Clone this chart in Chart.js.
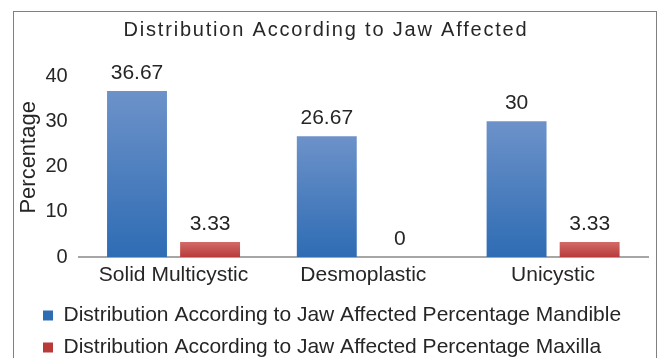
<!DOCTYPE html>
<html>
<head>
<meta charset="utf-8">
<script src="https://cdn.jsdelivr.net/npm/chart.js@4/dist/chart.umd.min.js"></script>
<style>
  html, body { margin: 0; padding: 0; background: #fff; overflow: hidden; }
  .frame { position: absolute; left: 13px; top: 11px; width: 642px; height: 360px; border: 1px solid #808080; }
  canvas { display: block; }
</style>
</head>
<body>
<div class="frame"><canvas id="jawChart" width="642" height="356"></canvas></div>
<script>
const chartTitle = "Distribution According to Jaw Affected";
const categories = ["Solid Multicystic", "Desmoplastic", "Unicystic"];
const mandible = [36.67, 26.67, 30];
const maxilla = [3.33, 0, 3.33];
const yTicks = [0, 10, 20, 30, 40];
const seriesNames = [
  "Distribution According to Jaw Affected Percentage Mandible",
  "Distribution According to Jaw Affected Percentage Maxilla"
];

const textColor = "#262626";
const font = '"Liberation Sans", Arial, sans-serif';

// per bar vertical gradient, like the excel fill
function barGradient(top, bottom) {
  return (ctx) => {
    const chart = ctx.chart;
    if (!chart.chartArea || ctx.raw === undefined) return bottom;
    const y = chart.scales.y;
    const y0 = y.getPixelForValue(ctx.raw);
    const y1 = y.getPixelForValue(0);
    if (y1 - y0 < 1) return bottom;
    const g = chart.ctx.createLinearGradient(0, y0, 0, y1);
    g.addColorStop(0, top);
    g.addColorStop(1, bottom);
    return g;
  };
}

const titlePlugin = {
  id: "spacedTitle",
  afterDraw(chart) {
    const c = chart.ctx;
    c.save();
    c.font = "20px " + font;
    c.letterSpacing = "1.8px";
    c.fillStyle = textColor;
    c.textAlign = "center";
    c.textBaseline = "middle";
    c.fillText(chartTitle, 312, 18);
    c.restore();
  }
};

const valueLabels = {
  id: "valueLabels",
  afterDatasetsDraw(chart) {
    const c = chart.ctx;
    c.save();
    c.font = "21px " + font;
    c.fillStyle = textColor;
    c.textAlign = "center";
    c.textBaseline = "alphabetic";
    chart.data.datasets.forEach((ds, i) => {
      chart.getDatasetMeta(i).data.forEach((bar, j) => {
        c.fillText(String(ds.data[j]), bar.x, bar.y - 12);
      });
    });
    c.restore();
  }
};

new Chart(document.getElementById("jawChart"), {
  type: "bar",
  data: {
    labels: categories,
    datasets: [
      {
        label: seriesNames[0],
        data: mandible,
        backgroundColor: barGradient("#6d92c9", "#2e6cb4"),
      },
      {
        label: seriesNames[1],
        data: maxilla,
        backgroundColor: barGradient("#d26b69", "#b83b3a"),
      },
    ],
  },
  options: {
    responsive: false,
    animation: false,
    categoryPercentage: 0.77,
    barPercentage: 0.82,
    layout: { padding: { left: 18, right: 8, top: 64, bottom: 0 } },
    scales: {
      x: {
        grid: { display: false, drawTicks: false },
        border: { color: "#a6a6a6", width: 2 },
        ticks: { color: textColor, font: { family: font, size: 21, lineHeight: 1.571 }, padding: 2 },
      },
      y: {
        min: yTicks[0],
        max: yTicks[yTicks.length - 1],
        ticks: { stepSize: 10, color: textColor, font: { family: font, size: 20 }, padding: 11 },
        grid: { display: false, drawTicks: false },
        border: { display: false },
        title: {
          display: true,
          // leading spaces nudge the rotated title up a little, as in the original
          text: "   Percentage",
          color: textColor,
          font: { family: font, size: 22 },
          padding: { top: -16, bottom: -8 },
        },
      },
    },
    plugins: {
      legend: {
        position: "bottom",
        align: "start",
        labels: {
          color: textColor,
          font: { family: font, size: 21 },
          boxWidth: 10,
          boxHeight: 10,
          padding: 11,
        },
      },
      tooltip: { enabled: false },
    },
  },
  plugins: [titlePlugin, valueLabels],
});
</script>
</body>
</html>
